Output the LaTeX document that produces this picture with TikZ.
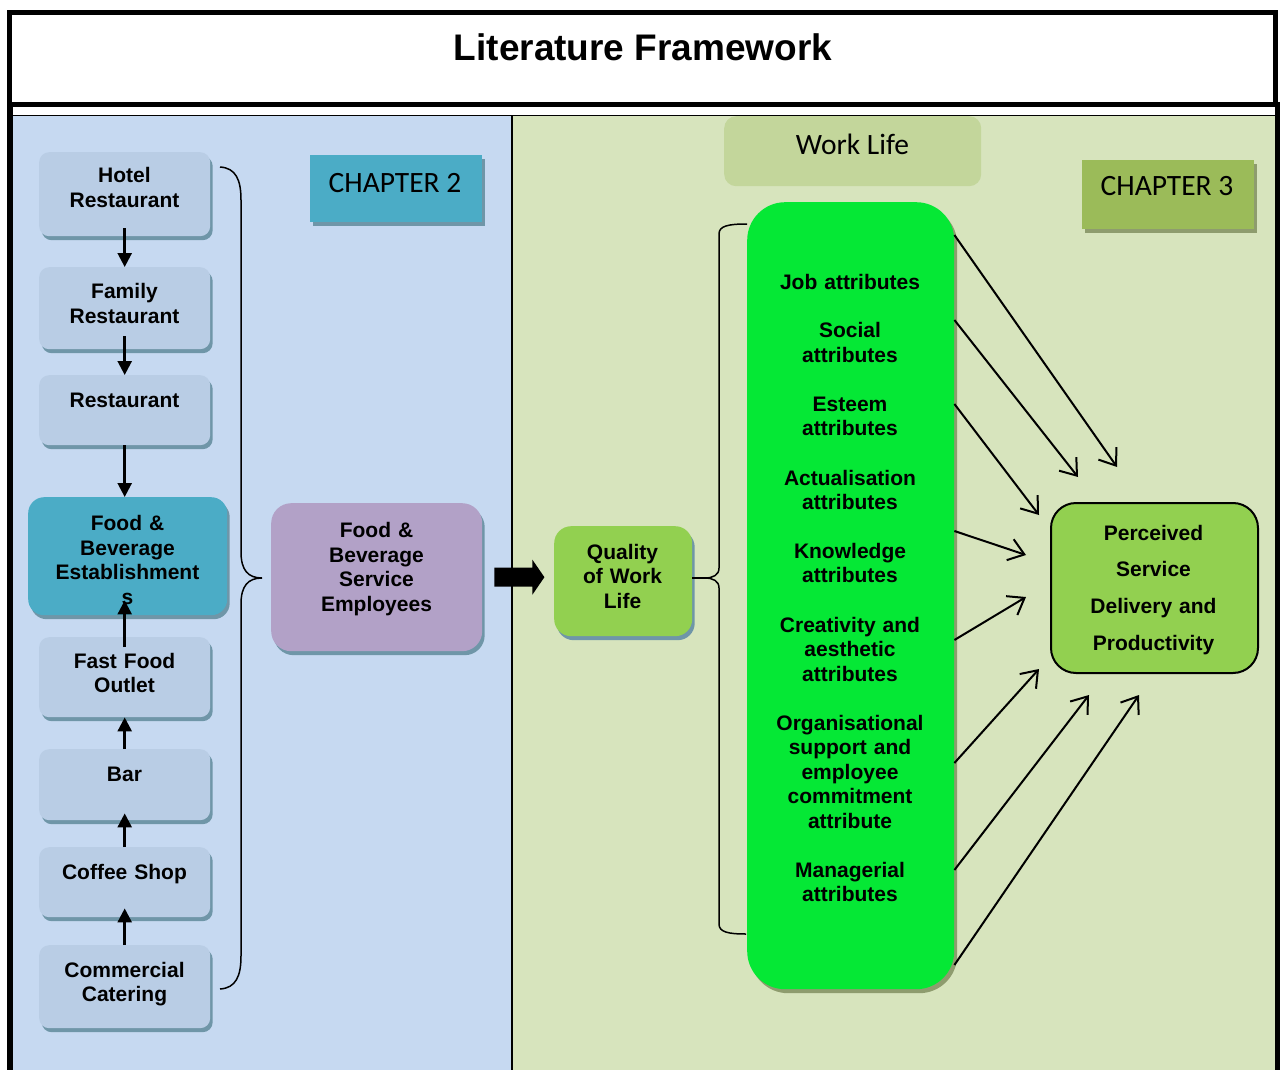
\documentclass[tikz,border=0pt]{standalone}
\usepackage{fontspec}
\setmainfont{Liberation Sans}
\newfontfamily\calibri{Carlito}
\usetikzlibrary{arrows.meta,shadows,calc}

\definecolor{panelblue}{HTML}{C6D9F1}
\definecolor{panelgreen}{HTML}{D7E4BD}
\definecolor{boxblue}{HTML}{B9CDE5}
\definecolor{shblue}{HTML}{6F96A8}
\definecolor{fbteal}{HTML}{4BACC6}
\definecolor{fbpurple}{HTML}{B2A1C7}
\definecolor{fblime}{HTML}{92D050}
\definecolor{worklife}{HTML}{C3D69B}
\definecolor{attrgreen}{HTML}{05E835}
\definecolor{shgreen}{HTML}{8E9C6E}
\definecolor{chthree}{HTML}{9BBB59}

\tikzset{
  panelbox/.style={anchor=north west, inner sep=0pt, rounded corners=10pt},
  shade blue/.style={drop shadow={shadow xshift=2.5pt,shadow yshift=-4pt,opacity=1,fill=shblue}},
  shade olive/.style={drop shadow={shadow xshift=3pt,shadow yshift=-4pt,opacity=1,fill=shgreen}},
  lbox/.style={panelbox, fill=boxblue, shade blue},
  txt/.style={anchor=base, text width=230pt, align=center, inner sep=0pt,
    font=\bfseries\fontsize{21}{24.5}\selectfont},
  ctxt/.style={anchor=base, inner sep=0pt, font=\calibri\fontsize{29.5}{32}\selectfont},
  flow/.style={line width=2.5pt, -{Triangle[length=14pt,width=14pt]}},
  att/.style={line width=2pt, -{Straight Barb[length=15pt,width=22pt]}},
  bracket/.style={line width=1.5pt},
}

\begin{document}
\begin{tikzpicture}[x=1pt,y=-1pt]
\useasboundingbox (0,0) rectangle (1280,1070);
\fill[white] (0,0) rectangle (1280,1070);

% heading frame
\draw[line width=5pt, fill=white] (9,12.5) rectangle (1275,104.5);
\node[anchor=base, inner sep=0pt, font=\bfseries\fontsize{37}{40}\selectfont] (title) at (643,61) {Literature Framework};

% the two chapter panels
\fill[panelblue] (9,116) rectangle (512,1070);
\fill[panelgreen] (512,116) rectangle (1277,1070);
\draw[line width=1.5pt] (7,115.5) -- (1279,115.5);
\draw[line width=2pt] (512,115.5) -- (512,1070);
\draw[line width=6pt] (9.5,106) -- (9.5,1070);
\draw[line width=5pt] (1277.5,102) -- (1277.5,1070);

% ---- Chapter 2: establishment types ----
\node[lbox, minimum width=171pt, minimum height=84pt] (hotel) at (39,152) {};
\node[lbox, minimum width=171pt, minimum height=82pt] (family) at (39,267) {};
\node[lbox, minimum width=171pt, minimum height=70pt] (rest) at (39,375) {};
\node[lbox, fill=fbteal, rounded corners=16pt, minimum width=199pt, minimum height=118pt] (fbe) at (28,497) {};
\node[lbox, minimum width=171pt, minimum height=80pt] (fast) at (39,637) {};
\node[lbox, minimum width=171pt, minimum height=71pt] (bar) at (39,749) {};
\node[lbox, minimum width=171pt, minimum height=70pt] (coffee) at (39,847) {};
\node[lbox, minimum width=171pt, minimum height=83pt] (comm) at (39,945) {};

\node[txt] (hotel-t) at (124.5,182.5) {Hotel\\Restaurant};
\node[txt] (family-t) at (124.5,298.5) {Family\\Restaurant};
\node[txt] (rest-t) at (124.5,407) {Restaurant};
\node[txt] (fbe-t) at (127.5,530.5) {Food \&\\Beverage\\Establishment\\s};
\node[txt] (fast-t) at (124.5,668) {Fast Food\\Outlet};
\node[txt] (bar-t) at (124.5,781.5) {Bar};
\node[txt] (coffee-t) at (124.5,879.5) {Coffee Shop};
\node[txt] (comm-t) at (124.5,977) {Commercial\\Catering};

\draw[flow] ([yshift=8pt]hotel.south) -- (family.north);
\draw[flow] ([yshift=13pt]family.south) -- (rest.north);
\draw[flow] (rest.south) -- (rest.south |- fbe.north);
\draw[flow] ([yshift=-10pt]fast.north) -- ([yshift=15pt]fast.north |- fbe.south);
\draw[flow] (bar.north) -- (fast.south);
\draw[flow] (coffee.north) -- ([yshift=7pt]bar.south);
\draw[flow] (comm.north) -- ([yshift=9pt]coffee.south);

% brace gathering the establishment types
\coordinate (lb-tip) at (262,578);
\draw[bracket] (220,167) .. controls (236,168) and (241,180) .. (241,200) -- (241,552)
  .. controls (241,570) and (248,578) .. (lb-tip)
  .. controls (248,578) and (241,586) .. (241,604) -- (241,956)
  .. controls (241,976) and (236,988) .. (220,989);

\node[panelbox, sharp corners, fill=fbteal, shade blue, minimum width=172pt, minimum height=67pt] (ch2) at (310,155) {};
\node[ctxt] (ch2-t) at (395,192.5) {CHAPTER 2};

\node[lbox, fill=fbpurple, rounded corners=20pt, minimum width=211pt, minimum height=148pt] (fbse) at (271,503) {};
\node[txt] (fbse-t) at (376.5,537.5) {Food \&\\Beverage\\Service\\Employees};

% block arrow into Chapter 3
\fill ([xshift=12pt,yshift=9.5pt]fbse.east) -- ++(38,0) -- ++(0,-8) -- ++(12,17.5)
  -- ++(-12,17.5) -- ++(0,-8) -- ++(-38,0) -- cycle;

% ---- Chapter 3: quality of work life ----
\node[lbox, fill=fblime, rounded corners=17pt, minimum width=138pt, minimum height=110pt] (qwl) at (554,526) {};
\node[txt] (qwl-t) at (622.5,559) {Quality\\of Work\\Life};

\node[panelbox, rounded corners=12pt, fill=worklife, minimum width=257pt, minimum height=70pt] (wl) at (724,116) {};
\node[ctxt] (wl-t) at (852.5,155) {Work Life};

\node[panelbox, rounded corners=38pt, fill=attrgreen, shade olive, minimum width=207pt, minimum height=787pt] (attrs) at (747,202) {};

\node[txt] (a1) at (850,289.5) {Job attributes};
\node[txt] (a2) at (850,337.5) {Social\\attributes};
\node[txt] (a3) at (850,411) {Esteem\\attributes};
\node[txt] (a4) at (850,485) {Actualisation\\attributes};
\node[txt] (a5) at (850,558) {Knowledge\\attributes};
\node[txt] (a6) at (850,632) {Creativity and\\aesthetic\\attributes};
\node[txt] (a7) at (850,730) {Organisational\\support and\\employee\\commitment\\attribute};
\node[txt] (a8) at (850,877) {Managerial\\attributes};

% brace from the quality box to the attribute column
\coordinate (rb-tip) at (705,578);
\draw[bracket] (qwl.east |- rb-tip) -- (rb-tip);
\draw[bracket] (747,224) .. controls (728,224) and (719,226) .. (719,234) -- (719,568)
  .. controls (719,575) and (713,578) .. (rb-tip)
  .. controls (713,578) and (719,581) .. (719,588) -- (719,924)
  .. controls (719,932) and (728,934) .. (746,934);

\node[panelbox, sharp corners, fill=chthree, shade olive, minimum width=172pt, minimum height=69pt] (ch3) at (1082,160) {};
\node[ctxt] (ch3-t) at (1167,196) {CHAPTER 3};

\node[panelbox, rounded corners=25pt, fill=fblime, draw=black, line width=2pt, minimum width=207pt, minimum height=170pt] (psd) at (1050,502) {};
\node[txt, font=\bfseries\fontsize{21}{36.7}\selectfont] (psd-t) at (1153.5,540) {Perceived\\Service\\Delivery and\\Productivity};

% influence arrows
\coordinate (t1) at (1117,467);
\coordinate (t2) at (1078,477);
\coordinate (t3) at (1039,515);
\coordinate (t4) at (1026,555);
\coordinate (t5) at (1026,597);
\coordinate (t6) at (1039,669);
\coordinate (t7) at (1089,695);
\coordinate (t8) at (1139,695);
\draw[att] ([yshift=-33pt]attrs.north east) -- (t1);
\draw[att] ([yshift=-118pt]attrs.north east) -- (t2);
\draw[att] ([yshift=-202pt]attrs.north east) -- (t3);
\draw[att] ([yshift=-329pt]attrs.north east) -- (t4);
\draw[att] ([yshift=-438pt]attrs.north east) -- (t5);
\draw[att] ([yshift=-561pt]attrs.north east) -- (t6);
\draw[att] ([yshift=-668pt]attrs.north east) -- (t7);
\draw[att] ([yshift=-763pt]attrs.north east) -- (t8);
\end{tikzpicture}
\end{document}
